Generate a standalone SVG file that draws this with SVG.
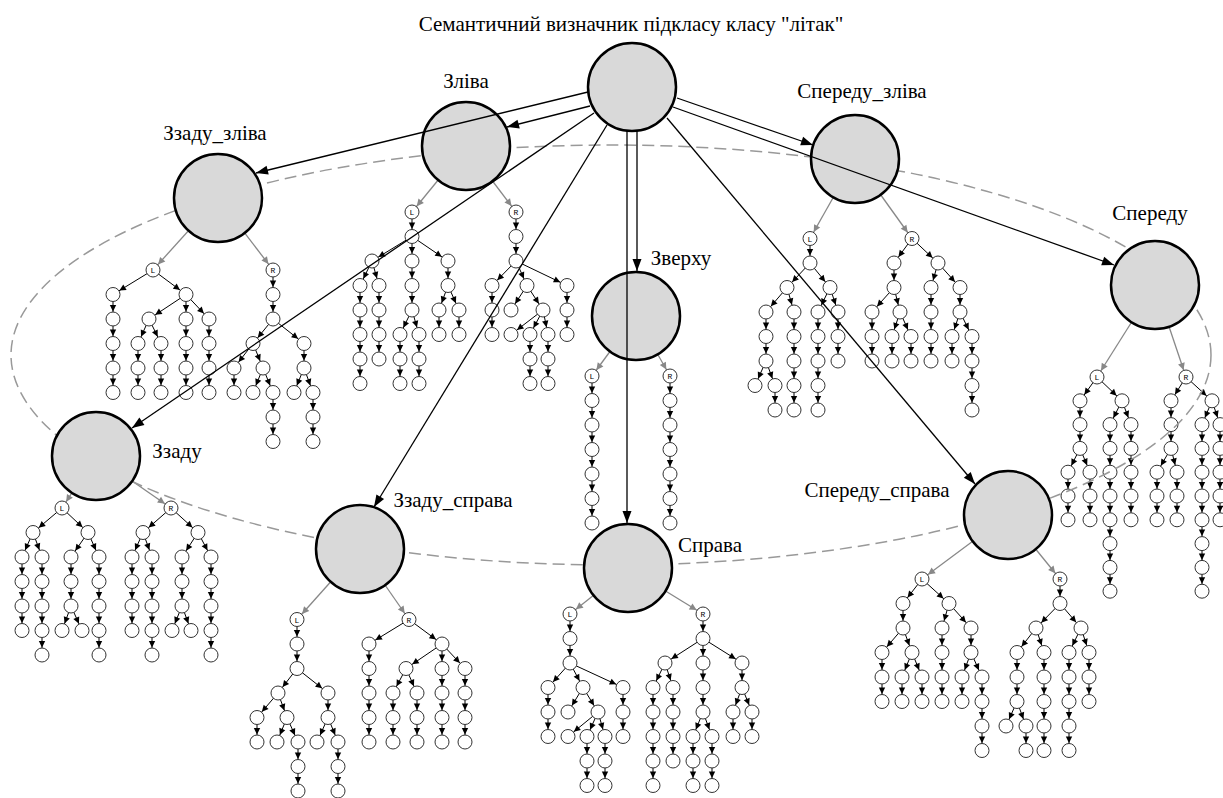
<svg xmlns="http://www.w3.org/2000/svg" xmlns:xlink="http://www.w3.org/1999/xlink" width="1223" height="798" viewBox="0 0 1223 798">
<style>
.big{fill:#d9d9d9;stroke:#000;stroke-width:2.5}
.sn{fill:#fff;stroke:#333;stroke-width:1}
.e{stroke:#000;stroke-width:1;fill:none;marker-end:url(#ah)}
.c{stroke:#000;stroke-width:1;fill:none;marker-mid:url(#ah);marker-end:url(#ah)}
.g{stroke:#888;stroke-width:1.3;fill:none;marker-end:url(#ag)}
.r{stroke:#000;stroke-width:1.3;fill:none;marker-end:url(#ab)}
.lbl{font-family:"Liberation Serif","Times New Roman","DejaVu Serif",serif;font-size:21px;fill:#000;text-anchor:middle}
.lr{font-family:"Liberation Mono",monospace;font-size:8px;fill:#000;text-anchor:middle}
.ell{fill:none;stroke:#999;stroke-width:1.5;stroke-dasharray:12 6}
</style>
<defs>
<marker id="ah" markerUnits="userSpaceOnUse" markerWidth="20" markerHeight="10" viewBox="-16 -5 20 10" refX="0" refY="0" orient="auto" overflow="visible"><path d="M-14,-3.2 L-7.5,0 L-14,3.2 z" fill="#000"/></marker>
<marker id="ag" markerUnits="userSpaceOnUse" markerWidth="20" markerHeight="10" viewBox="-16 -5 20 10" refX="0" refY="0" orient="auto" overflow="visible"><path d="M-14.5,-3.5 L-7.5,0 L-14.5,3.5 z" fill="#888"/></marker>
<marker id="ab" markerUnits="userSpaceOnUse" markerWidth="14" markerHeight="10" viewBox="-13 -5 14 10" refX="0" refY="0" orient="auto" overflow="visible"><path d="M-12,-4.5 L0,0 L-12,4.5 z" fill="#000"/></marker>
<circle id="n" r="7" class="sn"/>
<g id="nL"><circle r="7" class="sn"/><text class="lr" y="3">L</text></g>
<g id="nR"><circle r="7" class="sn"/><text class="lr" y="3">R</text></g>
</defs>
<rect width="1223" height="798" fill="#fff"/>
<text class="lbl" x="631" y="31">Семантичний визначник підкласу класу "літак"</text>

<!-- edges inside the sub-trees (drawn under the small nodes) -->
<g id="connectors">
<!-- Ззаду_зліва -->
<path class="g" d="M218 198L153 270"/><path class="g" d="M218 198L273 270"/>
<path class="e" d="M153 270L113 294.5"/><path class="e" d="M153 270L186 294.5"/>
<path class="e" d="M186 294.5L149 319"/><path class="e" d="M186 294.5L209 319"/>
<path class="e" d="M149 319L138 343.5"/><path class="e" d="M149 319L161 343.5"/>
<path class="e" d="M273 319L253 343.5"/><path class="e" d="M273 319L304 343.5"/>
<path class="e" d="M253 343.5L234 368"/><path class="e" d="M253 343.5L263 368"/>
<path class="e" d="M263 368L253 392.5"/><path class="e" d="M263 368L273 392.5"/>
<path class="e" d="M304 368L294 392.5"/><path class="e" d="M304 368L313 392.5"/>
<path class="c" d="M113 294.5V319V343.5V368V392.5"/><path class="c" d="M186 294.5V319V343.5V368V392.5"/>
<path class="c" d="M209 319V343.5V368V392.5"/><path class="c" d="M138 343.5V368V392.5"/><path class="c" d="M161 343.5V368V392.5"/>
<path class="c" d="M273 270V294.5V319"/><path class="c" d="M234 368V392.5"/><path class="c" d="M273 392.5V417V441.5"/>
<path class="c" d="M304 343.5V368"/><path class="c" d="M313 392.5V417V441.5"/>
<!-- Зліва -->
<path class="g" d="M466 146L412 212"/><path class="g" d="M466 146L516 212"/>
<path class="e" d="M412 236.5L372 261"/><path class="e" d="M412 236.5L448 261"/>
<path class="e" d="M372 261L360 285.5"/><path class="e" d="M372 261L379 285.5"/>
<path class="e" d="M412 310L400 334.5"/><path class="e" d="M412 310L419 334.5"/>
<path class="e" d="M448 285.5L439 310"/><path class="e" d="M448 285.5L459 310"/>
<path class="e" d="M516 261L492 285.5"/><path class="e" d="M516 261L527 285.5"/><path class="e" d="M516 261L567 285.5"/>
<path class="e" d="M527 285.5L511 310"/><path class="e" d="M527 285.5L543 310"/>
<path class="e" d="M543 310L511 334.5"/><path class="e" d="M543 310L530 334.5"/><path class="e" d="M543 310L548 334.5"/>
<path class="c" d="M412 212V236.5V261V285.5V310"/><path class="c" d="M360 285.5V310V334.5V359V383.5"/>
<path class="c" d="M379 285.5V310V334.5V359"/><path class="c" d="M400 334.5V359V383.5"/><path class="c" d="M419 334.5V359V383.5"/>
<path class="c" d="M448 261V285.5"/><path class="c" d="M439 310V334.5"/><path class="c" d="M459 310V334.5"/>
<path class="c" d="M516 212V236.5V261"/><path class="c" d="M492 285.5V310V334.5"/>
<path class="c" d="M530 334.5V359V383.5"/><path class="c" d="M548 334.5V359V383.5"/><path class="c" d="M567 285.5V310V334.5"/>
<!-- Зверху -->
<path class="g" d="M636 316L592 376"/><path class="g" d="M636 316L670 376"/>
<path class="c" d="M592 376V400.5V425V449.5V474V498.5V523"/><path class="c" d="M670 376V400.5V425V449.5V474V498.5V523"/>
<!-- Спереду_зліва -->
<path class="g" d="M855 159L810 238.5"/><path class="g" d="M855 159L912 238.5"/>
<path class="e" d="M810 263L787 287.5"/><path class="e" d="M810 263L830 287.5"/>
<path class="e" d="M787 287.5L766 312"/><path class="e" d="M787 287.5L794 312"/>
<path class="e" d="M766 361L755 385.5"/><path class="e" d="M766 361L775 385.5"/>
<path class="e" d="M830 287.5L818 312"/><path class="e" d="M830 287.5L838 312"/>
<path class="e" d="M912 238.5L894 263"/><path class="e" d="M912 238.5L938 263"/>
<path class="e" d="M894 287.5L872 312"/><path class="e" d="M894 287.5L900 312"/>
<path class="e" d="M900 312L892 336.5"/><path class="e" d="M900 312L911 336.5"/>
<path class="e" d="M938 263L931 287.5"/><path class="e" d="M938 263L960 287.5"/>
<path class="e" d="M960 312L952 336.5"/><path class="e" d="M960 312L972 336.5"/>
<path class="c" d="M810 238.5V263"/><path class="c" d="M766 312V336.5V361"/><path class="c" d="M775 385.5V410"/>
<path class="c" d="M794 312V336.5V361V385.5V410"/><path class="c" d="M818 312V336.5V361V385.5V410"/><path class="c" d="M838 312V336.5V361"/>
<path class="c" d="M894 263V287.5"/><path class="c" d="M872 312V336.5V361"/><path class="c" d="M892 336.5V361"/><path class="c" d="M911 336.5V361"/>
<path class="c" d="M931 287.5V312V336.5V361"/><path class="c" d="M960 287.5V312"/><path class="c" d="M952 336.5V361"/><path class="c" d="M972 336.5V361V385.5V410"/>
<!-- Спереду -->
<path class="g" d="M1155 285L1097 377"/><path class="g" d="M1155 285L1186 377"/>
<path class="e" d="M1097 377L1080 400.8"/><path class="e" d="M1097 377L1122 400.8"/>
<path class="e" d="M1080 448.4L1068 472.2"/><path class="e" d="M1080 448.4L1090 472.2"/>
<path class="e" d="M1122 400.8L1110 424.6"/><path class="e" d="M1122 400.8L1131 424.6"/>
<path class="e" d="M1186 377L1171 400.8"/><path class="e" d="M1186 377L1212 400.8"/>
<path class="e" d="M1171 448.4L1157 472.2"/><path class="e" d="M1171 448.4L1177 472.2"/>
<path class="e" d="M1212 400.8L1202 424.6"/><path class="e" d="M1212 400.8L1220 424.6"/>
<path class="c" d="M1080 400.8V424.6V448.4"/><path class="c" d="M1068 472.2V496V519.8"/><path class="c" d="M1090 472.2V496V519.8"/>
<path class="c" d="M1110 424.6V448.4V472.2V496V519.8V543.6V567.4V591.2"/><path class="c" d="M1131 424.6V448.4V472.2V496V519.8"/>
<path class="c" d="M1171 400.8V424.6V448.4"/><path class="c" d="M1157 472.2V496V519.8"/><path class="c" d="M1177 472.2V496V519.8"/>
<path class="c" d="M1202 424.6V448.4V472.2V496V519.8V543.6V567.4V591.2"/><path class="c" d="M1220 424.6V448.4V472.2V496V519.8"/>
<!-- Ззаду -->
<path class="g" d="M96 456L62 508"/><path class="g" d="M96 456L171 508"/>
<path class="e" d="M62 508L33 532.5"/><path class="e" d="M62 508L88 532.5"/>
<path class="e" d="M33 532.5L22 557"/><path class="e" d="M33 532.5L42 557"/>
<path class="e" d="M88 532.5L71 557"/><path class="e" d="M88 532.5L99 557"/>
<path class="e" d="M71 606L62 630.5"/><path class="e" d="M71 606L82 630.5"/>
<path class="e" d="M171 508L143 532.5"/><path class="e" d="M171 508L198 532.5"/>
<path class="e" d="M143 532.5L132 557"/><path class="e" d="M143 532.5L152 557"/>
<path class="e" d="M198 532.5L182 557"/><path class="e" d="M198 532.5L211 557"/>
<path class="e" d="M182 606L172 630.5"/><path class="e" d="M182 606L191 630.5"/>
<path class="c" d="M22 557V581.5V606V630.5"/><path class="c" d="M42 557V581.5V606V630.5V655"/>
<path class="c" d="M71 557V581.5V606"/><path class="c" d="M99 557V581.5V606V630.5V655"/>
<path class="c" d="M132 557V581.5V606V630.5"/><path class="c" d="M152 557V581.5V606V630.5V655"/>
<path class="c" d="M182 557V581.5V606"/><path class="c" d="M211 557V581.5V606V630.5V655"/>
<!-- Ззаду_справа -->
<path class="g" d="M360 549L297 619.5"/><path class="g" d="M360 549L409 619.5"/>
<path class="e" d="M297 668.5L278 693"/><path class="e" d="M297 668.5L328 693"/>
<path class="e" d="M278 693L257 717.5"/><path class="e" d="M278 693L287 717.5"/>
<path class="e" d="M287 717.5L277 742"/><path class="e" d="M287 717.5L298 742"/>
<path class="e" d="M328 717.5L317 742"/><path class="e" d="M328 717.5L338 742"/>
<path class="e" d="M409 619.5L369 644"/><path class="e" d="M409 619.5L442 644"/>
<path class="e" d="M442 644L406 668.5"/><path class="e" d="M442 644L465 668.5"/>
<path class="e" d="M406 668.5L393 693"/><path class="e" d="M406 668.5L417 693"/>
<path class="c" d="M297 619.5V644V668.5"/><path class="c" d="M257 717.5V742"/><path class="c" d="M298 742V766.5V791"/>
<path class="c" d="M328 693V717.5"/><path class="c" d="M338 742V766.5V791"/>
<path class="c" d="M369 644V668.5V693V717.5V742"/><path class="c" d="M393 693V717.5V742"/><path class="c" d="M417 693V717.5V742"/>
<path class="c" d="M442 644V668.5V693V717.5V742"/><path class="c" d="M465 668.5V693V717.5V742"/>
<!-- Справа -->
<path class="g" d="M628 568L570 614"/><path class="g" d="M628 568L703 614"/>
<path class="e" d="M570 663L548 687.5"/><path class="e" d="M570 663L583 687.5"/><path class="e" d="M570 663L623 687.5"/>
<path class="e" d="M583 687.5L568 712"/><path class="e" d="M583 687.5L598 712"/>
<path class="e" d="M598 712L568 736.5"/><path class="e" d="M598 712L587 736.5"/><path class="e" d="M598 712L605 736.5"/>
<path class="e" d="M703 638.5L665 663"/><path class="e" d="M703 638.5L742 663"/>
<path class="e" d="M665 663L653 687.5"/><path class="e" d="M665 663L673 687.5"/>
<path class="e" d="M703 712L693 736.5"/><path class="e" d="M703 712L712 736.5"/>
<path class="e" d="M742 687.5L733 712"/><path class="e" d="M742 687.5L752 712"/>
<path class="c" d="M570 614V638.5V663"/><path class="c" d="M548 687.5V712V736.5"/>
<path class="c" d="M587 736.5V761V785.5"/><path class="c" d="M605 736.5V761V785.5"/><path class="c" d="M623 687.5V712V736.5"/>
<path class="c" d="M703 614V638.5V663V687.5V712"/><path class="c" d="M653 687.5V712V736.5V761V785.5"/>
<path class="c" d="M673 687.5V712V736.5V761"/><path class="c" d="M693 736.5V761V785.5"/><path class="c" d="M712 736.5V761V785.5"/>
<path class="c" d="M742 663V687.5"/><path class="c" d="M733 712V736.5"/><path class="c" d="M752 712V736.5"/>
<!-- Спереду_справа -->
<path class="g" d="M1008 515L922 579"/><path class="g" d="M1008 515L1060 579"/>
<path class="e" d="M922 579L903 603.5"/><path class="e" d="M922 579L949 603.5"/>
<path class="e" d="M903 628L882 652.5"/><path class="e" d="M903 628L912 652.5"/>
<path class="e" d="M912 652.5L902 677"/><path class="e" d="M912 652.5L922 677"/>
<path class="e" d="M949 603.5L942 628"/><path class="e" d="M949 603.5L971 628"/>
<path class="e" d="M971 652.5L962 677"/><path class="e" d="M971 652.5L982 677"/>
<path class="e" d="M1060 603.5L1036 628"/><path class="e" d="M1060 603.5L1081 628"/>
<path class="e" d="M1036 628L1017 652.5"/><path class="e" d="M1036 628L1044 652.5"/>
<path class="e" d="M1017 701.5L1006 726"/><path class="e" d="M1017 701.5L1026 726"/>
<path class="e" d="M1081 628L1069 652.5"/><path class="e" d="M1081 628L1089 652.5"/>
<path class="c" d="M903 603.5V628"/><path class="c" d="M882 652.5V677V701.5"/><path class="c" d="M902 677V701.5"/><path class="c" d="M922 677V701.5"/>
<path class="c" d="M942 628V652.5V677V701.5"/><path class="c" d="M971 628V652.5"/><path class="c" d="M962 677V701.5"/><path class="c" d="M982 677V701.5V726V750.5"/>
<path class="c" d="M1060 579V603.5"/><path class="c" d="M1017 652.5V677V701.5"/><path class="c" d="M1026 726V750.5"/>
<path class="c" d="M1044 652.5V677V701.5V726V750.5"/><path class="c" d="M1069 652.5V677V701.5V726V750.5"/><path class="c" d="M1089 652.5V677V701.5"/>
</g>

<!-- small sub-tree nodes -->
<g id="tree-zzadu-zliva">
<use href="#nL" x="153" y="270"/><use href="#nR" x="273" y="270"/>
<use href="#n" x="113" y="294.5"/><use href="#n" x="186" y="294.5"/><use href="#n" x="113" y="319"/><use href="#n" x="149" y="319"/><use href="#n" x="186" y="319"/><use href="#n" x="209" y="319"/>
<use href="#n" x="113" y="343.5"/><use href="#n" x="138" y="343.5"/><use href="#n" x="161" y="343.5"/><use href="#n" x="186" y="343.5"/><use href="#n" x="209" y="343.5"/>
<use href="#n" x="113" y="368"/><use href="#n" x="138" y="368"/><use href="#n" x="161" y="368"/><use href="#n" x="186" y="368"/><use href="#n" x="209" y="368"/>
<use href="#n" x="113" y="392.5"/><use href="#n" x="138" y="392.5"/><use href="#n" x="161" y="392.5"/><use href="#n" x="186" y="392.5"/><use href="#n" x="209" y="392.5"/>
<use href="#n" x="273" y="294.5"/><use href="#n" x="273" y="319"/><use href="#n" x="253" y="343.5"/><use href="#n" x="304" y="343.5"/>
<use href="#n" x="234" y="368"/><use href="#n" x="263" y="368"/><use href="#n" x="304" y="368"/>
<use href="#n" x="234" y="392.5"/><use href="#n" x="253" y="392.5"/><use href="#n" x="273" y="392.5"/><use href="#n" x="294" y="392.5"/><use href="#n" x="313" y="392.5"/>
<use href="#n" x="273" y="417"/><use href="#n" x="313" y="417"/><use href="#n" x="273" y="441.5"/><use href="#n" x="313" y="441.5"/>
</g>
<g id="tree-zliva">
<use href="#nL" x="412" y="212"/><use href="#nR" x="516" y="212"/>
<use href="#n" x="412" y="236.5"/><use href="#n" x="372" y="261"/><use href="#n" x="412" y="261"/><use href="#n" x="448" y="261"/>
<use href="#n" x="360" y="285.5"/><use href="#n" x="379" y="285.5"/><use href="#n" x="412" y="285.5"/><use href="#n" x="448" y="285.5"/>
<use href="#n" x="360" y="310"/><use href="#n" x="379" y="310"/><use href="#n" x="412" y="310"/><use href="#n" x="439" y="310"/><use href="#n" x="459" y="310"/>
<use href="#n" x="360" y="334.5"/><use href="#n" x="379" y="334.5"/><use href="#n" x="400" y="334.5"/><use href="#n" x="419" y="334.5"/><use href="#n" x="439" y="334.5"/><use href="#n" x="459" y="334.5"/>
<use href="#n" x="360" y="359"/><use href="#n" x="379" y="359"/><use href="#n" x="400" y="359"/><use href="#n" x="419" y="359"/>
<use href="#n" x="360" y="383.5"/><use href="#n" x="400" y="383.5"/><use href="#n" x="419" y="383.5"/>
<use href="#n" x="516" y="236.5"/><use href="#n" x="516" y="261"/><use href="#n" x="492" y="285.5"/><use href="#n" x="527" y="285.5"/><use href="#n" x="567" y="285.5"/>
<use href="#n" x="492" y="310"/><use href="#n" x="511" y="310"/><use href="#n" x="543" y="310"/><use href="#n" x="567" y="310"/>
<use href="#n" x="492" y="334.5"/><use href="#n" x="511" y="334.5"/><use href="#n" x="530" y="334.5"/><use href="#n" x="548" y="334.5"/><use href="#n" x="567" y="334.5"/>
<use href="#n" x="530" y="359"/><use href="#n" x="548" y="359"/><use href="#n" x="530" y="383.5"/><use href="#n" x="548" y="383.5"/>
</g>
<g id="tree-zverkhu">
<use href="#nL" x="592" y="376"/><use href="#nR" x="670" y="376"/>
<use href="#n" x="592" y="400.5"/><use href="#n" x="592" y="425"/><use href="#n" x="592" y="449.5"/><use href="#n" x="592" y="474"/><use href="#n" x="592" y="498.5"/><use href="#n" x="592" y="523"/>
<use href="#n" x="670" y="400.5"/><use href="#n" x="670" y="425"/><use href="#n" x="670" y="449.5"/><use href="#n" x="670" y="474"/><use href="#n" x="670" y="498.5"/><use href="#n" x="670" y="523"/>
</g>
<g id="tree-speredu-zliva">
<use href="#nL" x="810" y="238.5"/><use href="#nR" x="912" y="238.5"/>
<use href="#n" x="810" y="263"/><use href="#n" x="787" y="287.5"/><use href="#n" x="830" y="287.5"/>
<use href="#n" x="766" y="312"/><use href="#n" x="794" y="312"/><use href="#n" x="818" y="312"/><use href="#n" x="838" y="312"/>
<use href="#n" x="766" y="336.5"/><use href="#n" x="794" y="336.5"/><use href="#n" x="818" y="336.5"/><use href="#n" x="838" y="336.5"/>
<use href="#n" x="766" y="361"/><use href="#n" x="794" y="361"/><use href="#n" x="818" y="361"/><use href="#n" x="838" y="361"/>
<use href="#n" x="755" y="385.5"/><use href="#n" x="775" y="385.5"/><use href="#n" x="794" y="385.5"/><use href="#n" x="818" y="385.5"/>
<use href="#n" x="775" y="410"/><use href="#n" x="794" y="410"/><use href="#n" x="818" y="410"/>
<use href="#n" x="894" y="263"/><use href="#n" x="938" y="263"/><use href="#n" x="894" y="287.5"/><use href="#n" x="931" y="287.5"/><use href="#n" x="960" y="287.5"/>
<use href="#n" x="872" y="312"/><use href="#n" x="900" y="312"/><use href="#n" x="931" y="312"/><use href="#n" x="960" y="312"/>
<use href="#n" x="872" y="336.5"/><use href="#n" x="892" y="336.5"/><use href="#n" x="911" y="336.5"/><use href="#n" x="931" y="336.5"/><use href="#n" x="952" y="336.5"/><use href="#n" x="972" y="336.5"/>
<use href="#n" x="872" y="361"/><use href="#n" x="892" y="361"/><use href="#n" x="911" y="361"/><use href="#n" x="931" y="361"/><use href="#n" x="952" y="361"/><use href="#n" x="972" y="361"/>
<use href="#n" x="972" y="385.5"/><use href="#n" x="972" y="410"/>
</g>
<g id="tree-speredu">
<use href="#nL" x="1097" y="377"/><use href="#nR" x="1186" y="377"/>
<use href="#n" x="1080" y="400.8"/><use href="#n" x="1122" y="400.8"/><use href="#n" x="1080" y="424.6"/><use href="#n" x="1110" y="424.6"/><use href="#n" x="1131" y="424.6"/>
<use href="#n" x="1080" y="448.4"/><use href="#n" x="1110" y="448.4"/><use href="#n" x="1131" y="448.4"/>
<use href="#n" x="1068" y="472.2"/><use href="#n" x="1090" y="472.2"/><use href="#n" x="1110" y="472.2"/><use href="#n" x="1131" y="472.2"/>
<use href="#n" x="1068" y="496"/><use href="#n" x="1090" y="496"/><use href="#n" x="1110" y="496"/><use href="#n" x="1131" y="496"/>
<use href="#n" x="1068" y="519.8"/><use href="#n" x="1090" y="519.8"/><use href="#n" x="1110" y="519.8"/><use href="#n" x="1131" y="519.8"/>
<use href="#n" x="1110" y="543.6"/><use href="#n" x="1110" y="567.4"/><use href="#n" x="1110" y="591.2"/>
<use href="#n" x="1171" y="400.8"/><use href="#n" x="1212" y="400.8"/><use href="#n" x="1171" y="424.6"/><use href="#n" x="1202" y="424.6"/><use href="#n" x="1220" y="424.6"/>
<use href="#n" x="1171" y="448.4"/><use href="#n" x="1202" y="448.4"/><use href="#n" x="1220" y="448.4"/>
<use href="#n" x="1157" y="472.2"/><use href="#n" x="1177" y="472.2"/><use href="#n" x="1202" y="472.2"/><use href="#n" x="1220" y="472.2"/>
<use href="#n" x="1157" y="496"/><use href="#n" x="1177" y="496"/><use href="#n" x="1202" y="496"/><use href="#n" x="1220" y="496"/>
<use href="#n" x="1157" y="519.8"/><use href="#n" x="1177" y="519.8"/><use href="#n" x="1202" y="519.8"/><use href="#n" x="1220" y="519.8"/>
<use href="#n" x="1202" y="543.6"/><use href="#n" x="1202" y="567.4"/><use href="#n" x="1202" y="591.2"/>
</g>
<g id="tree-zzadu">
<use href="#nL" x="62" y="508"/><use href="#nR" x="171" y="508"/>
<use href="#n" x="33" y="532.5"/><use href="#n" x="88" y="532.5"/>
<use href="#n" x="22" y="557"/><use href="#n" x="42" y="557"/><use href="#n" x="71" y="557"/><use href="#n" x="99" y="557"/>
<use href="#n" x="22" y="581.5"/><use href="#n" x="42" y="581.5"/><use href="#n" x="71" y="581.5"/><use href="#n" x="99" y="581.5"/>
<use href="#n" x="22" y="606"/><use href="#n" x="42" y="606"/><use href="#n" x="71" y="606"/><use href="#n" x="99" y="606"/>
<use href="#n" x="22" y="630.5"/><use href="#n" x="42" y="630.5"/><use href="#n" x="62" y="630.5"/><use href="#n" x="82" y="630.5"/><use href="#n" x="99" y="630.5"/>
<use href="#n" x="42" y="655"/><use href="#n" x="99" y="655"/>
<use href="#n" x="143" y="532.5"/><use href="#n" x="198" y="532.5"/>
<use href="#n" x="132" y="557"/><use href="#n" x="152" y="557"/><use href="#n" x="182" y="557"/><use href="#n" x="211" y="557"/>
<use href="#n" x="132" y="581.5"/><use href="#n" x="152" y="581.5"/><use href="#n" x="182" y="581.5"/><use href="#n" x="211" y="581.5"/>
<use href="#n" x="132" y="606"/><use href="#n" x="152" y="606"/><use href="#n" x="182" y="606"/><use href="#n" x="211" y="606"/>
<use href="#n" x="132" y="630.5"/><use href="#n" x="152" y="630.5"/><use href="#n" x="172" y="630.5"/><use href="#n" x="191" y="630.5"/><use href="#n" x="211" y="630.5"/>
<use href="#n" x="152" y="655"/><use href="#n" x="211" y="655"/>
</g>
<g id="tree-zzadu-sprava">
<use href="#nL" x="297" y="619.5"/><use href="#nR" x="409" y="619.5"/>
<use href="#n" x="297" y="644"/><use href="#n" x="297" y="668.5"/><use href="#n" x="278" y="693"/><use href="#n" x="328" y="693"/>
<use href="#n" x="257" y="717.5"/><use href="#n" x="287" y="717.5"/><use href="#n" x="328" y="717.5"/>
<use href="#n" x="257" y="742"/><use href="#n" x="277" y="742"/><use href="#n" x="298" y="742"/><use href="#n" x="317" y="742"/><use href="#n" x="338" y="742"/>
<use href="#n" x="298" y="766.5"/><use href="#n" x="338" y="766.5"/><use href="#n" x="298" y="791"/><use href="#n" x="338" y="791"/>
<use href="#n" x="369" y="644"/><use href="#n" x="442" y="644"/>
<use href="#n" x="369" y="668.5"/><use href="#n" x="406" y="668.5"/><use href="#n" x="442" y="668.5"/><use href="#n" x="465" y="668.5"/>
<use href="#n" x="369" y="693"/><use href="#n" x="393" y="693"/><use href="#n" x="417" y="693"/><use href="#n" x="442" y="693"/><use href="#n" x="465" y="693"/>
<use href="#n" x="369" y="717.5"/><use href="#n" x="393" y="717.5"/><use href="#n" x="417" y="717.5"/><use href="#n" x="442" y="717.5"/><use href="#n" x="465" y="717.5"/>
<use href="#n" x="369" y="742"/><use href="#n" x="393" y="742"/><use href="#n" x="417" y="742"/><use href="#n" x="442" y="742"/><use href="#n" x="465" y="742"/>
</g>
<g id="tree-sprava">
<use href="#nL" x="570" y="614"/><use href="#nR" x="703" y="614"/>
<use href="#n" x="570" y="638.5"/><use href="#n" x="570" y="663"/>
<use href="#n" x="548" y="687.5"/><use href="#n" x="583" y="687.5"/><use href="#n" x="623" y="687.5"/>
<use href="#n" x="548" y="712"/><use href="#n" x="568" y="712"/><use href="#n" x="598" y="712"/><use href="#n" x="623" y="712"/>
<use href="#n" x="548" y="736.5"/><use href="#n" x="568" y="736.5"/><use href="#n" x="587" y="736.5"/><use href="#n" x="605" y="736.5"/><use href="#n" x="623" y="736.5"/>
<use href="#n" x="587" y="761"/><use href="#n" x="605" y="761"/><use href="#n" x="587" y="785.5"/><use href="#n" x="605" y="785.5"/>
<use href="#n" x="703" y="638.5"/><use href="#n" x="665" y="663"/><use href="#n" x="703" y="663"/><use href="#n" x="742" y="663"/>
<use href="#n" x="653" y="687.5"/><use href="#n" x="673" y="687.5"/><use href="#n" x="703" y="687.5"/><use href="#n" x="742" y="687.5"/>
<use href="#n" x="653" y="712"/><use href="#n" x="673" y="712"/><use href="#n" x="703" y="712"/><use href="#n" x="733" y="712"/><use href="#n" x="752" y="712"/>
<use href="#n" x="653" y="736.5"/><use href="#n" x="673" y="736.5"/><use href="#n" x="693" y="736.5"/><use href="#n" x="712" y="736.5"/><use href="#n" x="733" y="736.5"/><use href="#n" x="752" y="736.5"/>
<use href="#n" x="653" y="761"/><use href="#n" x="673" y="761"/><use href="#n" x="693" y="761"/><use href="#n" x="712" y="761"/>
<use href="#n" x="653" y="785.5"/><use href="#n" x="693" y="785.5"/><use href="#n" x="712" y="785.5"/>
</g>
<g id="tree-speredu-sprava">
<use href="#nL" x="922" y="579"/><use href="#nR" x="1060" y="579"/>
<use href="#n" x="903" y="603.5"/><use href="#n" x="949" y="603.5"/>
<use href="#n" x="903" y="628"/><use href="#n" x="942" y="628"/><use href="#n" x="971" y="628"/>
<use href="#n" x="882" y="652.5"/><use href="#n" x="912" y="652.5"/><use href="#n" x="942" y="652.5"/><use href="#n" x="971" y="652.5"/>
<use href="#n" x="882" y="677"/><use href="#n" x="902" y="677"/><use href="#n" x="922" y="677"/><use href="#n" x="942" y="677"/><use href="#n" x="962" y="677"/><use href="#n" x="982" y="677"/>
<use href="#n" x="882" y="701.5"/><use href="#n" x="902" y="701.5"/><use href="#n" x="922" y="701.5"/><use href="#n" x="942" y="701.5"/><use href="#n" x="962" y="701.5"/><use href="#n" x="982" y="701.5"/>
<use href="#n" x="982" y="726"/><use href="#n" x="982" y="750.5"/>
<use href="#n" x="1060" y="603.5"/><use href="#n" x="1036" y="628"/><use href="#n" x="1081" y="628"/>
<use href="#n" x="1017" y="652.5"/><use href="#n" x="1044" y="652.5"/><use href="#n" x="1069" y="652.5"/><use href="#n" x="1089" y="652.5"/>
<use href="#n" x="1017" y="677"/><use href="#n" x="1044" y="677"/><use href="#n" x="1069" y="677"/><use href="#n" x="1089" y="677"/>
<use href="#n" x="1017" y="701.5"/><use href="#n" x="1044" y="701.5"/><use href="#n" x="1069" y="701.5"/><use href="#n" x="1089" y="701.5"/>
<use href="#n" x="1006" y="726"/><use href="#n" x="1026" y="726"/><use href="#n" x="1044" y="726"/><use href="#n" x="1069" y="726"/>
<use href="#n" x="1026" y="750.5"/><use href="#n" x="1044" y="750.5"/><use href="#n" x="1069" y="750.5"/>
</g>

<!-- dashed ring through the eight direction nodes -->
<ellipse class="ell" cx="611" cy="355" rx="600" ry="210"/>

<!-- direction nodes -->
<g id="root"><circle class="big" cx="632" cy="87" r="44"/></g>
<g id="node-zliva"><circle class="big" cx="466" cy="146" r="44"/><text class="lbl" x="466" y="88">Зліва</text></g>
<g id="node-zzadu-zliva"><circle class="big" cx="218" cy="198" r="44"/><text class="lbl" x="215" y="140">Ззаду_зліва</text></g>
<g id="node-speredu-zliva"><circle class="big" cx="855" cy="159" r="44"/><text class="lbl" x="862" y="98">Спереду_зліва</text></g>
<g id="node-speredu"><circle class="big" cx="1155" cy="285" r="44"/><text class="lbl" x="1150" y="220">Спереду</text></g>
<g id="node-zverkhu"><circle class="big" cx="636" cy="316" r="44"/><text class="lbl" x="681" y="265">Зверху</text></g>
<g id="node-zzadu"><circle class="big" cx="96" cy="456" r="44"/><text class="lbl" x="177" y="458">Ззаду</text></g>
<g id="node-zzadu-sprava"><circle class="big" cx="360" cy="549" r="44"/><text class="lbl" x="453" y="507">Ззаду_справа</text></g>
<g id="node-sprava"><circle class="big" cx="628" cy="568" r="44"/><text class="lbl" x="710" y="552">Справа</text></g>
<g id="node-speredu-sprava"><circle class="big" cx="1008" cy="515" r="44"/><text class="lbl" x="877" y="497">Спереду_справа</text></g>

<!-- edges from the root to the direction nodes -->
<g id="root-edges">
<path class="r" d="M590 106L507 127"/>
<path class="r" d="M588 92L256 173"/>
<path class="r" d="M594 113L132 428"/>
<path class="r" d="M607 125L374 507"/>
<path class="r" d="M637 131L637 271"/>
<path class="r" d="M627 131L627 523"/>
<path class="r" d="M677 98L813 145"/>
<path class="r" d="M673 107L1114 265"/>
<path class="r" d="M667 118L975 484"/>
</g>
</svg>
